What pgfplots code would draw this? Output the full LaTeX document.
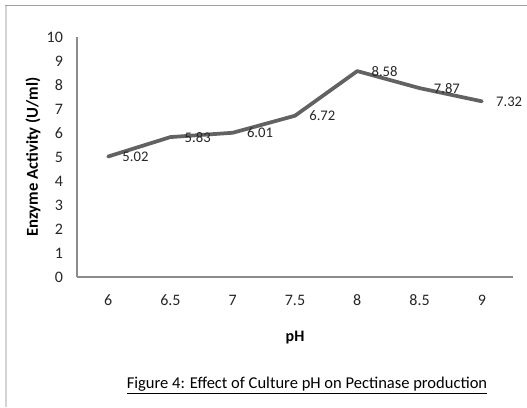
\documentclass[border=0pt]{standalone}
\usepackage{fontspec}
\setmainfont{Carlito}
\usepackage{pgfplots}
\pgfplotsset{compat=1.18}
\definecolor{linegray}{HTML}{626262}
\definecolor{axisgray}{HTML}{8C8C8C}
\definecolor{framegray}{HTML}{D4D4D4}
\definecolor{topgray}{HTML}{A0A0A0}
\begin{document}
\begin{tikzpicture}[x=1pt,y=1pt]
\useasboundingbox (-57.75,-97.5) rectangle (337.5,207.75);
\draw[framegray, line width=1.3pt] (-53.5,-97.5) -- (-53.5,203.5);
\draw[topgray, line width=1.2pt] (-54.2,203.5) -- (337.5,203.5);
\begin{axis}[
  at={(0,0)}, anchor=south west,
  scale only axis, width=327pt, height=180pt,
  xmin=5.75, xmax=9.25, ymin=0, ymax=10,
  axis lines*=left,
  axis line style={axisgray, line width=0.8pt},
  xtick={6,6.5,7,7.5,8,8.5,9},
  ytick={0,1,...,10},
  major tick length=0pt,
  /pgf/number format/assume math mode=true,
  tick label style={font=\fontsize{12}{14}\selectfont, text=black!85},
  yticklabel style={xshift=-7pt},
  xticklabel style={yshift=-10pt},
  xlabel={\textbf{pH}},
  xlabel style={at={(axis description cs:0.5,-0.254)}, anchor=center, font=\fontsize{12}{14}\selectfont},
  ylabel={\textbf{Enzyme Activity (U/ml)}},
  ylabel style={at={(axis description cs:-0.101,0.5)}, anchor=center, rotate=0, font=\fontsize{12.5}{14}\selectfont},
  clip=false,
]
\addplot[linegray, line width=2.8pt, line join=round, line cap=round, mark=none,
  nodes near coords={\pgfmathprintnumber[fixed,precision=2,fixed zerofill]{\pgfplotspointmeta}},
  every node near coord/.style={anchor=west, xshift=6pt, font=\fontsize{11}{13}\selectfont, text=black!85}]
  coordinates {(6,5.02) (6.5,5.83) (7,6.01) (7.5,6.72) (8,8.58) (8.5,7.87) (9,7.32)};
\end{axis}
\node[font=\fontsize{12.4}{15}\selectfont] at (172.5,-81.75) {\underline{Figure 4: Effect of Culture pH on Pectinase production}};
\end{tikzpicture}
\end{document}
